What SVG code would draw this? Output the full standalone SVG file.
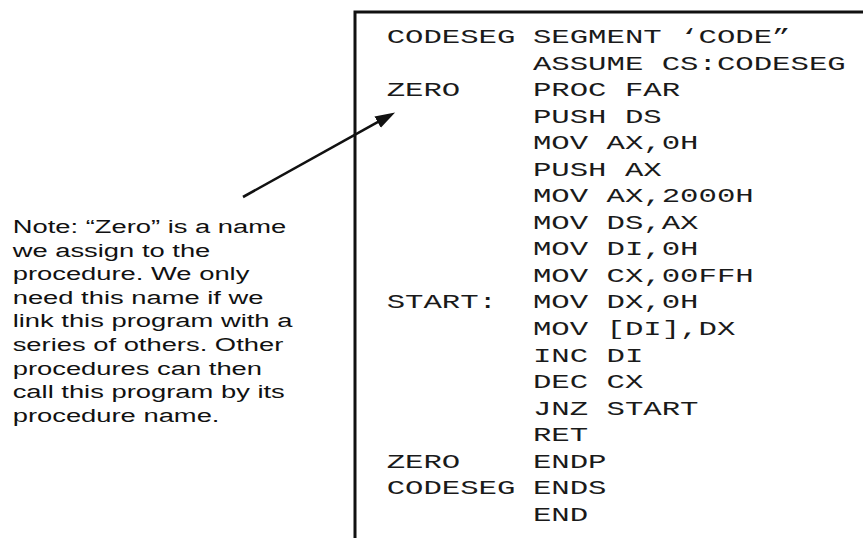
<svg xmlns="http://www.w3.org/2000/svg" width="863" height="538" viewBox="0 0 863 538">
<defs>
<style>
.code{font-family:"Courier New","Liberation Mono",monospace;font-size:19.5px;fill:#1a1a1a}
.note{font-family:"Liberation Sans",Arial,sans-serif;font-size:19px;fill:#111}
.frame{stroke:#111;stroke-width:3;fill:none}
.conn{stroke:#111;stroke-width:2.6;fill:none}
</style>
<marker id="ah" markerUnits="userSpaceOnUse" markerWidth="22" markerHeight="14" refX="1" refY="6.5" orient="auto">
<path d="M0,0 L20,6.5 L0,13 z" fill="#111"/>
</marker>
</defs>
<rect width="863" height="538" fill="#fff"/>
<g id="code-box">
<path class="frame" d="M355,540 L355,12 L865,12"/>
<g transform="scale(1.573,1)" class="code">
<text x="245.8" y="43">CODESEG</text><text x="338.8" y="43">SEGMENT ‘CODE”</text>
<text x="338.8" y="69.55">ASSUME CS:CODESEG</text>
<text x="245.8" y="96.1">ZERO</text><text x="338.8" y="96.1">PROC FAR</text>
<text x="338.8" y="122.65">PUSH DS</text>
<text x="338.8" y="149.2">MOV AX,0H</text>
<text x="338.8" y="175.75">PUSH AX</text>
<text x="338.8" y="202.3">MOV AX,2000H</text>
<text x="338.8" y="228.85">MOV DS,AX</text>
<text x="338.8" y="255.4">MOV DI,0H</text>
<text x="338.8" y="281.95">MOV CX,00FFH</text>
<text x="245.8" y="308.5">START:</text><text x="338.8" y="308.5">MOV DX,0H</text>
<text x="338.8" y="335.05">MOV [DI],DX</text>
<text x="338.8" y="361.6">INC DI</text>
<text x="338.8" y="388.15">DEC CX</text>
<text x="338.8" y="414.7">JNZ START</text>
<text x="338.8" y="441.25">RET</text>
<text x="245.8" y="467.8">ZERO</text><text x="338.8" y="467.8">ENDP</text>
<text x="245.8" y="494.35">CODESEG</text><text x="338.8" y="494.35">ENDS</text>
<text x="338.8" y="520.9">END</text>
</g>
</g>
<g id="note">
<g transform="scale(1.44,1)" class="note">
<text x="8.8" y="233">Note: “Zero” is a name</text>
<text x="8.8" y="256.6">we assign to the</text>
<text x="8.8" y="280.2">procedure. We only</text>
<text x="8.8" y="303.8">need this name if we</text>
<text x="8.8" y="327.4">link this program with a</text>
<text x="8.8" y="351">series of others. Other</text>
<text x="8.8" y="374.6">procedures can then</text>
<text x="8.8" y="398.2">call this program by its</text>
<text x="8.8" y="421.8">procedure name.</text>
</g>
</g>
<g id="connectors">
<line class="conn" x1="243" y1="197" x2="378.5" y2="121.7" marker-end="url(#ah)"/>
</g>
</svg>
